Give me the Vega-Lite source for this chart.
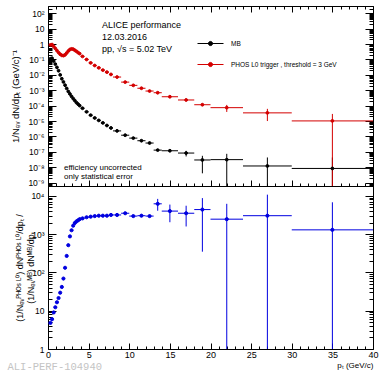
{
  "$schema": "https://vega.github.io/schema/vega-lite/v6.json",
  "padding": {"left": 7, "top": 5, "right": 0, "bottom": 0},
  "spacing": 0,
  "bounds": "flush",
  "resolve": {"legend": {"fill": "independent", "stroke": "independent"}},
  "title": {"text": "ALI-PERF-104940", "orient": "bottom", "anchor": "start", "font": "Liberation Mono", "fontSize": 10.5, "color": "#c4c4c4", "fontWeight": "normal", "offset": 0, "dy": -8, "dx": -2},
  "config": {
    "font": "Liberation Sans",
    "view": {"stroke": "#000", "strokeWidth": 1},
    "axis": {"grid": false, "domain": false, "tickColor": "#000", "tickWidth": 1, "labelColor": "#000", "labelFontSize": 8.5, "labelFont": "Liberation Sans", "titleFont": "Liberation Sans", "titleFontWeight": "normal", "titleColor": "#000", "titleFontSize": 8, "labelFlush": false, "labelOverlap": false, "labelBound": false}
  },
  "datasets": {
    "spec": [
      {"series":"MB","pt":0.3,"lo":0.2,"hi":0.4,"y":0.112,"ylo":0.112,"yhi":0.112},
      {"series":"MB","pt":0.5,"lo":0.4,"hi":0.6,"y":0.12,"ylo":0.12,"yhi":0.12},
      {"series":"MB","pt":0.7,"lo":0.6,"hi":0.8,"y":0.0794,"ylo":0.0794,"yhi":0.0794},
      {"series":"MB","pt":0.9,"lo":0.8,"hi":1.0,"y":0.0501,"ylo":0.0501,"yhi":0.0501},
      {"series":"MB","pt":1.1,"lo":1.0,"hi":1.2,"y":0.0309,"ylo":0.0309,"yhi":0.0309},
      {"series":"MB","pt":1.3,"lo":1.2,"hi":1.4,"y":0.0186,"ylo":0.0186,"yhi":0.0186},
      {"series":"MB","pt":1.5,"lo":1.4,"hi":1.6,"y":0.01,"ylo":0.01,"yhi":0.01},
      {"series":"MB","pt":1.7,"lo":1.6,"hi":1.8,"y":0.00562,"ylo":0.00562,"yhi":0.00562},
      {"series":"MB","pt":1.9,"lo":1.8,"hi":2.0,"y":0.00347,"ylo":0.00347,"yhi":0.00347},
      {"series":"MB","pt":2.1,"lo":2.0,"hi":2.2,"y":0.00214,"ylo":0.00214,"yhi":0.00214},
      {"series":"MB","pt":2.3,"lo":2.2,"hi":2.4,"y":0.00132,"ylo":0.00132,"yhi":0.00132},
      {"series":"MB","pt":2.5,"lo":2.4,"hi":2.6,"y":0.000832,"ylo":0.000832,"yhi":0.000832},
      {"series":"MB","pt":2.7,"lo":2.6,"hi":2.8,"y":0.000575,"ylo":0.000575,"yhi":0.000575},
      {"series":"MB","pt":2.9,"lo":2.8,"hi":3.0,"y":0.000398,"ylo":0.000398,"yhi":0.000398},
      {"series":"MB","pt":3.1,"lo":3.0,"hi":3.2,"y":0.000288,"ylo":0.000288,"yhi":0.000288},
      {"series":"MB","pt":3.3,"lo":3.2,"hi":3.4,"y":0.000214,"ylo":0.000214,"yhi":0.000214},
      {"series":"MB","pt":3.5,"lo":3.4,"hi":3.6,"y":0.000158,"ylo":0.000158,"yhi":0.000158},
      {"series":"MB","pt":3.7,"lo":3.6,"hi":3.8,"y":0.000126,"ylo":0.000126,"yhi":0.000126},
      {"series":"MB","pt":3.9,"lo":3.8,"hi":4.0,"y":0.0001,"ylo":0.0001,"yhi":0.0001},
      {"series":"MB","pt":4.25,"lo":4.0,"hi":4.5,"y":6.76e-5,"ylo":6.76e-5,"yhi":6.76e-5},
      {"series":"MB","pt":4.75,"lo":4.5,"hi":5.0,"y":3.98e-5,"ylo":3.98e-5,"yhi":3.98e-5},
      {"series":"MB","pt":5.25,"lo":5.0,"hi":5.5,"y":2.4e-5,"ylo":2.4e-5,"yhi":2.4e-5},
      {"series":"MB","pt":5.75,"lo":5.5,"hi":6.0,"y":1.58e-5,"ylo":1.58e-5,"yhi":1.58e-5},
      {"series":"MB","pt":6.25,"lo":6.0,"hi":6.5,"y":1.1e-5,"ylo":1.1e-5,"yhi":1.1e-5},
      {"series":"MB","pt":6.75,"lo":6.5,"hi":7.0,"y":7.59e-6,"ylo":7.59e-6,"yhi":7.59e-6},
      {"series":"MB","pt":7.25,"lo":7.0,"hi":7.5,"y":5.13e-6,"ylo":5.13e-6,"yhi":5.13e-6},
      {"series":"MB","pt":7.75,"lo":7.5,"hi":8.0,"y":3.55e-6,"ylo":3.45e-6,"yhi":3.65e-6},
      {"series":"MB","pt":8.5,"lo":8.0,"hi":9.0,"y":2.29e-6,"ylo":2.22e-6,"yhi":2.36e-6},
      {"series":"MB","pt":9.5,"lo":9.0,"hi":10.0,"y":1.2e-6,"ylo":1.15e-6,"yhi":1.25e-6},
      {"series":"MB","pt":10.5,"lo":10.0,"hi":11.0,"y":7.76e-7,"ylo":7.3e-7,"yhi":8.2e-7},
      {"series":"MB","pt":11.5,"lo":11.0,"hi":12.0,"y":5.25e-7,"ylo":4.9e-7,"yhi":5.6e-7},
      {"series":"MB","pt":12.5,"lo":12.0,"hi":13.0,"y":3.72e-7,"ylo":3.4e-7,"yhi":4.05e-7},
      {"series":"MB","pt":13.5,"lo":13.0,"hi":14.0,"y":1.29e-7,"ylo":1.12e-7,"yhi":1.47e-7},
      {"series":"MB","pt":15,"lo":14,"hi":16,"y":1.17e-7,"ylo":1.0e-7,"yhi":1.36e-7},
      {"series":"MB","pt":17,"lo":16,"hi":18,"y":8.3e-8,"ylo":5.0e-8,"yhi":1.16e-7},
      {"series":"MB","pt":19,"lo":18,"hi":20,"y":2.95e-8,"ylo":4.0e-9,"yhi":5.5e-8},
      {"series":"MB","pt":22,"lo":20,"hi":24,"y":3.1e-8,"ylo":1e-12,"yhi":7.4e-8},
      {"series":"MB","pt":27,"lo":24,"hi":30,"y":1.2e-8,"ylo":1e-12,"yhi":4.3e-8},
      {"series":"MB","pt":35,"lo":30,"hi":40,"y":8.3e-9,"ylo":1e-12,"yhi":4.3e-8},
      {"series":"PHOS L0 trigger , threshold = 3 GeV","pt":0.3,"lo":0.2,"hi":0.4,"y":0.891,"ylo":0.891,"yhi":0.891},
      {"series":"PHOS L0 trigger , threshold = 3 GeV","pt":0.5,"lo":0.4,"hi":0.6,"y":0.933,"ylo":0.933,"yhi":0.933},
      {"series":"PHOS L0 trigger , threshold = 3 GeV","pt":0.7,"lo":0.6,"hi":0.8,"y":0.708,"ylo":0.708,"yhi":0.708},
      {"series":"PHOS L0 trigger , threshold = 3 GeV","pt":0.9,"lo":0.8,"hi":1.0,"y":0.525,"ylo":0.525,"yhi":0.525},
      {"series":"PHOS L0 trigger , threshold = 3 GeV","pt":1.1,"lo":1.0,"hi":1.2,"y":0.38,"ylo":0.38,"yhi":0.38},
      {"series":"PHOS L0 trigger , threshold = 3 GeV","pt":1.3,"lo":1.2,"hi":1.4,"y":0.282,"ylo":0.282,"yhi":0.282},
      {"series":"PHOS L0 trigger , threshold = 3 GeV","pt":1.5,"lo":1.4,"hi":1.6,"y":0.219,"ylo":0.219,"yhi":0.219},
      {"series":"PHOS L0 trigger , threshold = 3 GeV","pt":1.7,"lo":1.6,"hi":1.8,"y":0.186,"ylo":0.186,"yhi":0.186},
      {"series":"PHOS L0 trigger , threshold = 3 GeV","pt":1.9,"lo":1.8,"hi":2.0,"y":0.178,"ylo":0.178,"yhi":0.178},
      {"series":"PHOS L0 trigger , threshold = 3 GeV","pt":2.1,"lo":2.0,"hi":2.2,"y":0.2,"ylo":0.2,"yhi":0.2},
      {"series":"PHOS L0 trigger , threshold = 3 GeV","pt":2.3,"lo":2.2,"hi":2.4,"y":0.263,"ylo":0.263,"yhi":0.263},
      {"series":"PHOS L0 trigger , threshold = 3 GeV","pt":2.5,"lo":2.4,"hi":2.6,"y":0.355,"ylo":0.355,"yhi":0.355},
      {"series":"PHOS L0 trigger , threshold = 3 GeV","pt":2.7,"lo":2.6,"hi":2.8,"y":0.447,"ylo":0.447,"yhi":0.447},
      {"series":"PHOS L0 trigger , threshold = 3 GeV","pt":2.9,"lo":2.8,"hi":3.0,"y":0.49,"ylo":0.49,"yhi":0.49},
      {"series":"PHOS L0 trigger , threshold = 3 GeV","pt":3.1,"lo":3.0,"hi":3.2,"y":0.468,"ylo":0.468,"yhi":0.468},
      {"series":"PHOS L0 trigger , threshold = 3 GeV","pt":3.3,"lo":3.2,"hi":3.4,"y":0.398,"ylo":0.398,"yhi":0.398},
      {"series":"PHOS L0 trigger , threshold = 3 GeV","pt":3.5,"lo":3.4,"hi":3.6,"y":0.339,"ylo":0.339,"yhi":0.339},
      {"series":"PHOS L0 trigger , threshold = 3 GeV","pt":3.7,"lo":3.6,"hi":3.8,"y":0.282,"ylo":0.282,"yhi":0.282},
      {"series":"PHOS L0 trigger , threshold = 3 GeV","pt":3.9,"lo":3.8,"hi":4.0,"y":0.24,"ylo":0.24,"yhi":0.24},
      {"series":"PHOS L0 trigger , threshold = 3 GeV","pt":4.25,"lo":4.0,"hi":4.5,"y":0.158,"ylo":0.158,"yhi":0.158},
      {"series":"PHOS L0 trigger , threshold = 3 GeV","pt":4.75,"lo":4.5,"hi":5.0,"y":0.1,"ylo":0.1,"yhi":0.1},
      {"series":"PHOS L0 trigger , threshold = 3 GeV","pt":5.25,"lo":5.0,"hi":5.5,"y":0.0603,"ylo":0.0603,"yhi":0.0603},
      {"series":"PHOS L0 trigger , threshold = 3 GeV","pt":5.75,"lo":5.5,"hi":6.0,"y":0.0407,"ylo":0.0407,"yhi":0.0407},
      {"series":"PHOS L0 trigger , threshold = 3 GeV","pt":6.25,"lo":6.0,"hi":6.5,"y":0.0288,"ylo":0.0288,"yhi":0.0288},
      {"series":"PHOS L0 trigger , threshold = 3 GeV","pt":6.75,"lo":6.5,"hi":7.0,"y":0.0204,"ylo":0.0204,"yhi":0.0204},
      {"series":"PHOS L0 trigger , threshold = 3 GeV","pt":7.25,"lo":7.0,"hi":7.5,"y":0.0151,"ylo":0.0151,"yhi":0.0151},
      {"series":"PHOS L0 trigger , threshold = 3 GeV","pt":7.75,"lo":7.5,"hi":8.0,"y":0.0107,"ylo":0.0107,"yhi":0.0107},
      {"series":"PHOS L0 trigger , threshold = 3 GeV","pt":8.5,"lo":8.0,"hi":9.0,"y":0.00724,"ylo":0.0071,"yhi":0.00738},
      {"series":"PHOS L0 trigger , threshold = 3 GeV","pt":9.5,"lo":9.0,"hi":10.0,"y":0.00339,"ylo":0.0033,"yhi":0.00348},
      {"series":"PHOS L0 trigger , threshold = 3 GeV","pt":10.5,"lo":10.0,"hi":11.0,"y":0.00209,"ylo":0.00202,"yhi":0.00216},
      {"series":"PHOS L0 trigger , threshold = 3 GeV","pt":11.5,"lo":11.0,"hi":12.0,"y":0.00135,"ylo":0.0013,"yhi":0.0014},
      {"series":"PHOS L0 trigger , threshold = 3 GeV","pt":12.5,"lo":12.0,"hi":13.0,"y":0.000891,"ylo":0.00086,"yhi":0.00092},
      {"series":"PHOS L0 trigger , threshold = 3 GeV","pt":13.5,"lo":13.0,"hi":14.0,"y":0.000692,"ylo":0.00066,"yhi":0.000725},
      {"series":"PHOS L0 trigger , threshold = 3 GeV","pt":15,"lo":14,"hi":16,"y":0.00038,"ylo":0.000355,"yhi":0.000405},
      {"series":"PHOS L0 trigger , threshold = 3 GeV","pt":17,"lo":16,"hi":18,"y":0.000234,"ylo":0.00021,"yhi":0.000258},
      {"series":"PHOS L0 trigger , threshold = 3 GeV","pt":19,"lo":18,"hi":20,"y":0.000115,"ylo":9.8e-5,"yhi":0.000132},
      {"series":"PHOS L0 trigger , threshold = 3 GeV","pt":22,"lo":20,"hi":24,"y":7.4e-5,"ylo":3.9e-5,"yhi":0.000112},
      {"series":"PHOS L0 trigger , threshold = 3 GeV","pt":27,"lo":24,"hi":30,"y":3.4e-5,"ylo":1.0e-5,"yhi":6.2e-5},
      {"series":"PHOS L0 trigger , threshold = 3 GeV","pt":35,"lo":30,"hi":40,"y":1.02e-5,"ylo":1e-12,"yhi":2.9e-5}
    ],
    "ratio": [
      {"pt":0.3,"lo":0.2,"hi":0.4,"y":4.8,"ylo":4.8,"yhi":4.8},
      {"pt":0.5,"lo":0.4,"hi":0.6,"y":6.0,"ylo":6.0,"yhi":6.0},
      {"pt":0.7,"lo":0.6,"hi":0.8,"y":9.0,"ylo":9.0,"yhi":9.0},
      {"pt":0.9,"lo":0.8,"hi":1.0,"y":12.3,"ylo":12.3,"yhi":12.3},
      {"pt":1.1,"lo":1.0,"hi":1.2,"y":16.6,"ylo":16.6,"yhi":16.6},
      {"pt":1.3,"lo":1.2,"hi":1.4,"y":21.4,"ylo":21.4,"yhi":21.4},
      {"pt":1.5,"lo":1.4,"hi":1.6,"y":29.5,"ylo":29.5,"yhi":29.5},
      {"pt":1.7,"lo":1.6,"hi":1.8,"y":41.7,"ylo":41.7,"yhi":41.7},
      {"pt":1.9,"lo":1.8,"hi":2.0,"y":69,"ylo":69,"yhi":69},
      {"pt":2.1,"lo":2.0,"hi":2.2,"y":132,"ylo":132,"yhi":132},
      {"pt":2.3,"lo":2.2,"hi":2.4,"y":269,"ylo":269,"yhi":269},
      {"pt":2.5,"lo":2.4,"hi":2.6,"y":513,"ylo":513,"yhi":513},
      {"pt":2.7,"lo":2.6,"hi":2.8,"y":871,"ylo":871,"yhi":871},
      {"pt":2.9,"lo":2.8,"hi":3.0,"y":1259,"ylo":1259,"yhi":1259},
      {"pt":3.1,"lo":3.0,"hi":3.2,"y":1660,"ylo":1660,"yhi":1660},
      {"pt":3.3,"lo":3.2,"hi":3.4,"y":1950,"ylo":1950,"yhi":1950},
      {"pt":3.5,"lo":3.4,"hi":3.6,"y":2140,"ylo":2140,"yhi":2140},
      {"pt":3.7,"lo":3.6,"hi":3.8,"y":2290,"ylo":2290,"yhi":2290},
      {"pt":3.9,"lo":3.8,"hi":4.0,"y":2455,"ylo":2455,"yhi":2455},
      {"pt":4.25,"lo":4.0,"hi":4.5,"y":2570,"ylo":2570,"yhi":2570},
      {"pt":4.75,"lo":4.5,"hi":5.0,"y":2750,"ylo":2750,"yhi":2750},
      {"pt":5.25,"lo":5.0,"hi":5.5,"y":2850,"ylo":2850,"yhi":2850},
      {"pt":5.75,"lo":5.5,"hi":6.0,"y":2950,"ylo":2950,"yhi":2950},
      {"pt":6.25,"lo":6.0,"hi":6.5,"y":3020,"ylo":3020,"yhi":3020},
      {"pt":6.75,"lo":6.5,"hi":7.0,"y":3020,"ylo":3020,"yhi":3020},
      {"pt":7.25,"lo":7.0,"hi":7.5,"y":3020,"ylo":3020,"yhi":3020},
      {"pt":7.75,"lo":7.5,"hi":8.0,"y":3160,"ylo":3060,"yhi":3260},
      {"pt":8.5,"lo":8.0,"hi":9.0,"y":3160,"ylo":3060,"yhi":3260},
      {"pt":9.5,"lo":9.0,"hi":10.0,"y":3500,"ylo":3330,"yhi":3680},
      {"pt":10.5,"lo":10.0,"hi":11.0,"y":2950,"ylo":2800,"yhi":3100},
      {"pt":11.5,"lo":11.0,"hi":12.0,"y":3020,"ylo":2850,"yhi":3200},
      {"pt":12.5,"lo":12.0,"hi":13.0,"y":2950,"ylo":2750,"yhi":3150},
      {"pt":13.5,"lo":13.0,"hi":14.0,"y":6170,"ylo":4070,"yhi":8300},
      {"pt":15,"lo":14,"hi":16,"y":3980,"ylo":2040,"yhi":5890},
      {"pt":17,"lo":16,"hi":18,"y":3500,"ylo":1580,"yhi":5500},
      {"pt":19,"lo":18,"hi":20,"y":4365,"ylo":347,"yhi":8700},
      {"pt":22,"lo":20,"hi":24,"y":2450,"ylo":0.01,"yhi":6170},
      {"pt":27,"lo":24,"hi":30,"y":3020,"ylo":0.01,"yhi":10700},
      {"pt":35,"lo":30,"hi":40,"y":1290,"ylo":0.01,"yhi":6760}
    ]
  },
  "vconcat": [
    {
      "width": 325,
      "height": 180,
      "data": {"name": "spec"},
      "resolve": {"axis": {"x": "independent", "y": "independent"}},
      "layer": [
        {
          "mark": {"type": "rule", "strokeWidth": 1, "clip": true},
          "encoding": {
            "x": {"field": "lo", "type": "quantitative", "scale": {"domain": [0, 40], "nice": false, "zero": false},
                  "axis": {"orient": "bottom", "values": [0,5,10,15,20,25,30,35,40], "tickSize": -6, "labels": false, "title": null}},
            "x2": {"field": "hi"},
            "y": {"field": "y", "type": "quantitative", "scale": {"type": "log", "domain": [6e-10, 300], "nice": false},
                  "axis": {"orient": "left", "values": [1e-9,1e-8,1e-7,1e-6,1e-5,1e-4,1e-3,1e-2,0.1,1,10,100], "tickSize": -8, "labelPadding": 12,
                           "labelExpr": "['10⁻⁹','10⁻⁸','10⁻⁷','10⁻⁶','10⁻⁵','10⁻⁴','10⁻³','10⁻²','10⁻¹','1','10','10²'][round(log(datum.value)/LN10)+9]",
                           "title": "1/Nₑᵥ dN/dpₜ (GeV/c)⁻¹", "titleAngle": -90, "titleX": -33, "titleY": 90, "titleAlign": "center", "titleBaseline": "middle", "titleFontSize": 9.5}},
            "stroke": {"field": "series", "type": "nominal", "scale": {"domain": ["MB", "PHOS L0 trigger , threshold = 3 GeV"], "range": ["#000000", "#d40000"]},
                       "legend": {"orient": "none", "legendX": 155.5, "legendY": 30.5, "title": null, "symbolType": "M-2,0H2M0.32,0A0.32,0.32 0 1,1 -0.32,0A0.32,0.32 0 1,1 0.32,0Z", "symbolSize": 169, "symbolStrokeWidth": 1, "labelFontSize": 6.5, "labelFont": "Liberation Sans", "labelColor": "#000", "labelOffset": 13.5, "rowPadding": 9, "padding": 0}}
          }
        },
        {
          "mark": {"type": "rule", "strokeWidth": 1, "clip": true},
          "encoding": {
            "x": {"field": "pt", "type": "quantitative", "scale": {"domain": [0, 40], "nice": false, "zero": false},
                  "axis": {"orient": "bottom", "values": [1,2,3,4,6,7,8,9,11,12,13,14,16,17,18,19,21,22,23,24,26,27,28,29,31,32,33,34,36,37,38,39], "tickSize": -3, "labels": false, "title": null}},
            "y": {"field": "ylo", "type": "quantitative", "scale": {"type": "log", "domain": [6e-10, 300], "nice": false},
                  "axis": {"orient": "left", "values": [6e-10,7e-10,8e-10,9e-10,2e-9,3e-9,4e-9,5e-9,6e-9,7e-9,8e-9,9e-9,2e-8,3e-8,4e-8,5e-8,6e-8,7e-8,8e-8,9e-8,2e-7,3e-7,4e-7,5e-7,6e-7,7e-7,8e-7,9e-7,2e-6,3e-6,4e-6,5e-6,6e-6,7e-6,8e-6,9e-6,2e-5,3e-5,4e-5,5e-5,6e-5,7e-5,8e-5,9e-5,2e-4,3e-4,4e-4,5e-4,6e-4,7e-4,8e-4,9e-4,2e-3,3e-3,4e-3,5e-3,6e-3,7e-3,8e-3,9e-3,0.02,0.03,0.04,0.05,0.06,0.07,0.08,0.09,0.2,0.3,0.4,0.5,0.6,0.7,0.8,0.9,2,3,4,5,6,7,8,9,20,30,40,50,60,70,80,90,200,300], "tickSize": -4, "labels": false, "title": null}},
            "y2": {"field": "yhi"},
            "stroke": {"field": "series", "type": "nominal", "scale": {"domain": ["MB", "PHOS L0 trigger , threshold = 3 GeV"], "range": ["#000000", "#d40000"]},
                       "legend": {"orient": "none", "legendX": 155.5, "legendY": 30.5, "title": null, "symbolType": "M-2,0H2M0.32,0A0.32,0.32 0 1,1 -0.32,0A0.32,0.32 0 1,1 0.32,0Z", "symbolSize": 169, "symbolStrokeWidth": 1, "labelFontSize": 6.5, "labelFont": "Liberation Sans", "labelColor": "#000", "labelOffset": 13.5, "rowPadding": 9, "padding": 0}}
          }
        },
        {
          "transform": [{"filter": "datum.pt < 8"}],
          "mark": {"type": "point", "filled": true, "size": 8, "strokeWidth": 1, "opacity": 1, "clip": true},
          "encoding": {
            "x": {"field": "pt", "type": "quantitative", "scale": {"domain": [0, 40], "nice": false, "zero": false},
                  "axis": {"orient": "top", "values": [0,5,10,15,20,25,30,35,40], "tickSize": -6, "labels": false, "title": null}},
            "y": {"field": "y", "type": "quantitative", "scale": {"type": "log", "domain": [6e-10, 300], "nice": false},
                  "axis": {"orient": "right", "values": [1e-9,1e-8,1e-7,1e-6,1e-5,1e-4,1e-3,1e-2,0.1,1,10,100], "tickSize": -8, "labels": false, "title": null}},
            "fill": {"field": "series", "type": "nominal", "scale": {"domain": ["MB", "PHOS L0 trigger , threshold = 3 GeV"], "range": ["#000000", "#d40000"]},
                     "legend": {"orient": "none", "legendX": 155.5, "legendY": 30.5, "title": null, "symbolType": "M-2,0H2M0.32,0A0.32,0.32 0 1,1 -0.32,0A0.32,0.32 0 1,1 0.32,0Z", "symbolSize": 169, "symbolStrokeWidth": 1, "labelFontSize": 6.5, "labelFont": "Liberation Sans", "labelColor": "#000", "labelOffset": 13.5, "rowPadding": 9, "padding": 0}},
            "stroke": {"field": "series", "type": "nominal", "scale": {"domain": ["MB", "PHOS L0 trigger , threshold = 3 GeV"], "range": ["#000000", "#d40000"]},
                       "legend": {"orient": "none", "legendX": 155.5, "legendY": 30.5, "title": null, "symbolType": "M-2,0H2M0.32,0A0.32,0.32 0 1,1 -0.32,0A0.32,0.32 0 1,1 0.32,0Z", "symbolSize": 169, "symbolStrokeWidth": 1, "labelFontSize": 6.5, "labelFont": "Liberation Sans", "labelColor": "#000", "labelOffset": 13.5, "rowPadding": 9, "padding": 0}}
          }
        },
        {
          "transform": [{"filter": "datum.pt >= 8"}],
          "mark": {"type": "point", "filled": true, "size": 8, "strokeWidth": 1, "opacity": 1, "clip": true},
          "encoding": {
            "x": {"field": "pt", "type": "quantitative", "scale": {"domain": [0, 40], "nice": false, "zero": false},
                  "axis": {"orient": "top", "values": [1,2,3,4,6,7,8,9,11,12,13,14,16,17,18,19,21,22,23,24,26,27,28,29,31,32,33,34,36,37,38,39], "tickSize": -3, "labels": false, "title": null}},
            "y": {"field": "y", "type": "quantitative", "scale": {"type": "log", "domain": [6e-10, 300], "nice": false},
                  "axis": {"orient": "right", "values": [6e-10,7e-10,8e-10,9e-10,2e-9,3e-9,4e-9,5e-9,6e-9,7e-9,8e-9,9e-9,2e-8,3e-8,4e-8,5e-8,6e-8,7e-8,8e-8,9e-8,2e-7,3e-7,4e-7,5e-7,6e-7,7e-7,8e-7,9e-7,2e-6,3e-6,4e-6,5e-6,6e-6,7e-6,8e-6,9e-6,2e-5,3e-5,4e-5,5e-5,6e-5,7e-5,8e-5,9e-5,2e-4,3e-4,4e-4,5e-4,6e-4,7e-4,8e-4,9e-4,2e-3,3e-3,4e-3,5e-3,6e-3,7e-3,8e-3,9e-3,0.02,0.03,0.04,0.05,0.06,0.07,0.08,0.09,0.2,0.3,0.4,0.5,0.6,0.7,0.8,0.9,2,3,4,5,6,7,8,9,20,30,40,50,60,70,80,90,200,300], "tickSize": -4, "labels": false, "title": null}},
            "fill": {"field": "series", "type": "nominal", "scale": {"domain": ["MB", "PHOS L0 trigger , threshold = 3 GeV"], "range": ["#000000", "#d40000"]},
                     "legend": {"orient": "none", "legendX": 155.5, "legendY": 30.5, "title": null, "symbolType": "M-2,0H2M0.32,0A0.32,0.32 0 1,1 -0.32,0A0.32,0.32 0 1,1 0.32,0Z", "symbolSize": 169, "symbolStrokeWidth": 1, "labelFontSize": 6.5, "labelFont": "Liberation Sans", "labelColor": "#000", "labelOffset": 13.5, "rowPadding": 9, "padding": 0}},
            "stroke": {"field": "series", "type": "nominal", "scale": {"domain": ["MB", "PHOS L0 trigger , threshold = 3 GeV"], "range": ["#000000", "#d40000"]},
                       "legend": {"orient": "none", "legendX": 155.5, "legendY": 30.5, "title": null, "symbolType": "M-2,0H2M0.32,0A0.32,0.32 0 1,1 -0.32,0A0.32,0.32 0 1,1 0.32,0Z", "symbolSize": 169, "symbolStrokeWidth": 1, "labelFontSize": 6.5, "labelFont": "Liberation Sans", "labelColor": "#000", "labelOffset": 13.5, "rowPadding": 9, "padding": 0}}
          }
        },
        {
          "data": {"values": [{}]},
          "mark": {"type": "text", "align": "left", "baseline": "top", "fontSize": 9, "lineHeight": 12, "font": "Liberation Sans", "color": "#000"},
          "encoding": {
            "x": {"datum": 6.65, "type": "quantitative", "axis": null, "scale": {"domain": [0, 40], "nice": false, "zero": false}},
            "y": {"datum": 34, "type": "quantitative", "axis": null, "scale": {"type": "log", "domain": [6e-10, 300], "nice": false}},
            "text": {"value": ["ALICE performance", "12.03.2016", "pp, √s = 5.02 TeV"]}
          }
        },
        {
          "data": {"values": [{}]},
          "mark": {"type": "text", "align": "left", "baseline": "top", "fontSize": 8, "lineHeight": 9, "font": "Liberation Sans", "color": "#000"},
          "encoding": {
            "x": {"datum": 1.97, "type": "quantitative", "axis": null, "scale": {"domain": [0, 40], "nice": false, "zero": false}},
            "y": {"datum": 1.63e-8, "type": "quantitative", "axis": null, "scale": {"type": "log", "domain": [6e-10, 300], "nice": false}},
            "text": {"value": ["efficiency uncorrected", "only statistical error"]}
          }
        }
      ]
    },
    {
      "width": 325,
      "height": 163,
      "data": {"name": "ratio"},
      "resolve": {"axis": {"x": "independent", "y": "independent"}},
      "layer": [
        {
          "mark": {"type": "rule", "strokeWidth": 1, "clip": true, "color": "#0000e0"},
          "encoding": {
            "x": {"field": "lo", "type": "quantitative", "scale": {"domain": [0, 40], "nice": false, "zero": false},
                  "axis": {"orient": "bottom", "values": [0,5,10,15,20,25,30,35,40], "tickSize": -6, "labelPadding": 7, "labelFontSize": 9,
                           "title": "pₜ (GeV/c)", "titleX": 325, "titleY": 12, "titleAlign": "right", "titleBaseline": "top", "titleFontSize": 8}},
            "x2": {"field": "hi"},
            "y": {"field": "y", "type": "quantitative", "scale": {"type": "log", "domain": [1, 18000], "nice": false},
                  "axis": {"orient": "left", "values": [1,10,100,1000,10000], "tickSize": -8, "labelPadding": 12,
                           "labelExpr": "['1','10','10²','10³','10⁴'][round(log(datum.value)/LN10)]",
                           "title": ["(1/Nₑᵥᴾᴴᴼˢ ᴸ⁰) dNᴾᴴᴼˢ ᴸ⁰/dpₜ  /", "(1/Nₑᵥᴹᴮ) dNᴹᴮ/dpₜ"], "titleAngle": -90, "titleX": -29, "titleY": 81.5, "titleAlign": "center", "titleBaseline": "middle", "titleLineHeight": 11, "titleFontSize": 9}}
          }
        },
        {
          "mark": {"type": "rule", "strokeWidth": 1, "clip": true, "color": "#0000e0"},
          "encoding": {
            "x": {"field": "pt", "type": "quantitative", "scale": {"domain": [0, 40], "nice": false, "zero": false},
                  "axis": {"orient": "bottom", "values": [1,2,3,4,6,7,8,9,11,12,13,14,16,17,18,19,21,22,23,24,26,27,28,29,31,32,33,34,36,37,38,39], "tickSize": -3, "labels": false, "title": null}},
            "y": {"field": "ylo", "type": "quantitative", "scale": {"type": "log", "domain": [1, 18000], "nice": false},
                  "axis": {"orient": "left", "values": [2,3,4,5,6,7,8,9,20,30,40,50,60,70,80,90,200,300,400,500,600,700,800,900,2000,3000,4000,5000,6000,7000,8000,9000], "tickSize": -4, "labels": false, "title": null}},
            "y2": {"field": "yhi"}
          }
        },
        {
          "transform": [{"filter": "datum.pt < 8"}],
          "mark": {"type": "point", "filled": true, "size": 10, "strokeWidth": 1, "opacity": 1, "color": "#0000e0", "stroke": "#0000e0", "clip": true},
          "encoding": {
            "x": {"field": "pt", "type": "quantitative", "scale": {"domain": [0, 40], "nice": false, "zero": false}, "axis": null},
            "y": {"field": "y", "type": "quantitative", "scale": {"type": "log", "domain": [1, 18000], "nice": false},
                  "axis": {"orient": "right", "values": [1,10,100,1000,10000], "tickSize": -8, "labels": false, "title": null}}
          }
        },
        {
          "transform": [{"filter": "datum.pt >= 8"}],
          "mark": {"type": "point", "filled": true, "size": 10, "strokeWidth": 1, "opacity": 1, "color": "#0000e0", "stroke": "#0000e0", "clip": true},
          "encoding": {
            "x": {"field": "pt", "type": "quantitative", "scale": {"domain": [0, 40], "nice": false, "zero": false}, "axis": null},
            "y": {"field": "y", "type": "quantitative", "scale": {"type": "log", "domain": [1, 18000], "nice": false},
                  "axis": {"orient": "right", "values": [2,3,4,5,6,7,8,9,20,30,40,50,60,70,80,90,200,300,400,500,600,700,800,900,2000,3000,4000,5000,6000,7000,8000,9000], "tickSize": -4, "labels": false, "title": null}}
          }
        }
      ]
    }
  ]
}
